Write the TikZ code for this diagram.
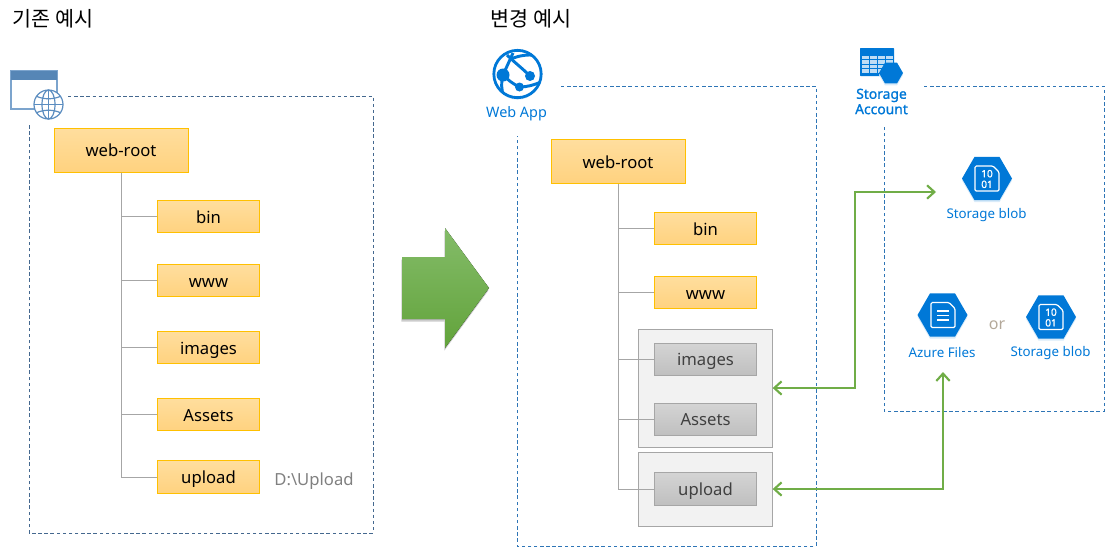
\documentclass[tikz,border=0pt]{standalone}
\usepackage{fontspec}
\setmainfont{Noto Sans}
\newfontfamily\cjk{Noto Sans CJK KR}
\newfontfamily\heavier[FakeBold=1.2]{Noto Sans}
\usetikzlibrary{shapes.geometric,shadows,arrows.meta}
\definecolor{azure}{HTML}{0078D7}
\definecolor{leaf}{HTML}{70AD47}
\definecolor{leaftop}{HTML}{84BC69}
\definecolor{leaflow}{HTML}{62A33B}
\definecolor{boxedge}{HTML}{FFC000}
\definecolor{boxtop}{HTML}{FFDE9E}
\definecolor{boxlow}{HTML}{FFD27F}
\definecolor{oldblue}{HTML}{44688F}
\definecolor{newblue}{HTML}{2E75B6}
\definecolor{globeblue}{HTML}{5B8DC0}
\definecolor{ortan}{HTML}{B3A899}
\begin{document}
\begin{tikzpicture}[x=.75pt, y=-.75pt,
  rootbox/.style={draw=boxedge, line width=.75pt, minimum width=100.5pt, minimum height=33pt,
                  inner sep=0pt, top color=boxtop, bottom color=boxlow, text height=11.5pt, text depth=1.5pt,
                  font=\fontsize{12.5}{14}\selectfont},
  leafbox/.style={rootbox, minimum width=77pt, minimum height=24.5pt},
  greybox/.style={draw=black!35, line width=.75pt, minimum width=77pt, minimum height=24.5pt, inner sep=0pt,
                  top color=black!17, bottom color=black!25, text=black!75, text height=11pt, text depth=1.5pt,
                  font=\fontsize{12.5}{14}\selectfont},
  setbox/.style={draw=black!35, line width=.75pt, fill=black!5, minimum width=100pt, inner sep=0pt},
  treeline/.style={draw=black!35, line width=.75pt},
  oldframe/.style={draw=oldblue, line width=.6pt, dash pattern=on 2.6pt off 2pt},
  newframe/.style={draw=newblue, line width=.6pt, dash pattern=on 2.6pt off 2pt},
  syncline/.style={draw=leaf, line width=1.6pt, {Straight Barb[length=5.5pt,width=10pt]}-{Straight Barb[length=5.5pt,width=10pt]}},
  hexnode/.style={regular polygon, regular polygon sides=6, minimum size=37.5pt, inner sep=0pt,
                  fill=azure, drop shadow={shadow xshift=0pt, shadow yshift=-1.5pt, fill=azure!15, opacity=1}},
  azlabel/.style={text=azure, font=\fontsize{10}{11.5}\selectfont, align=center, inner sep=0pt},
  titletext/.style={font=\cjk\fontsize{15.5}{18}\selectfont, inner sep=0pt},
  docglyph/.style={white, line width=.9pt, rounded corners=1pt},
  bits/.style={text=white, font=\heavier\fontsize{7.5}{8}\selectfont, align=center, inner sep=0pt},
]
  \useasboundingbox (0,0) rectangle (1105,547);

  % Titles
  \node[titletext] (oldtitle) at (53,19) {기존 예시};
  \node[titletext] (newtitle) at (531,19) {변경 예시};

  % Frames
  \draw[oldframe] (68,96) -- (373,96) -- (373,533) -- (29,533) -- (29,123);
  \draw[newframe] (561,86) -- (816,86) -- (816,546) -- (517,546) -- (517,136);
  \draw[newframe] (924,86) -- (1104,86) -- (1104,411) -- (884,411) -- (884,127);

  % Old tree
  \node[rootbox] (oldroot) at (121,150) {web-root};
  \node[leafbox] (oldbin) at (208.5,216.5) {bin};
  \node[leafbox] (oldwww) at (208.5,280.5) {www};
  \node[leafbox] (oldimg) at (208.5,347.5) {images};
  \node[leafbox] (oldast) at (208.5,414.5) {Assets};
  \node[leafbox] (oldupl) at (208.5,477) {upload};
  \node[text=black!50, font=\fontsize{12.5}{14}\selectfont, inner sep=0pt] (oldpath) at (314,481) {D:\textbackslash Upload};
  \foreach \m in {oldbin, oldwww, oldimg, oldast, oldupl}
    \draw[treeline] (oldroot.south) |- (\m.west);

  % New tree
  \node[setbox, minimum height=88.5pt] (imgset) at (705.5,388) {};
  \node[setbox, minimum height=55.5pt] (uplset) at (705.5,489) {};
  \node[rootbox] (newroot) at (618,161.5) {web-root};
  \node[leafbox] (newbin) at (705.5,228.5) {bin};
  \node[leafbox] (newwww) at (705.5,292.5) {www};
  \node[greybox] (newimg) at (705.5,359.5) {images};
  \node[greybox] (newast) at (705.5,419.5) {Assets};
  \node[greybox] (newupl) at (705.5,489) {upload};
  \foreach \m in {newbin, newwww, newimg, newast, newupl}
    \draw[treeline] (newroot.south) |- (\m.west);

  % Big arrow
  \fill[top color=leaftop, bottom color=leaflow, drop shadow={shadow xshift=-.5pt, shadow yshift=-2pt, opacity=.4}]
    (402,257) -- (445,257) -- (445,228) -- (489,288) -- (445,348) -- (445,319) -- (402,319) -- cycle;

  % Old icon
  \draw[draw=globeblue!80!white, fill=white, line width=.8pt] (11,71) rectangle (57,109);
  \fill[globeblue!80!oldblue] (11,71) rectangle (57,80);
  \begin{scope}[draw=globeblue, line width=.9pt]
    \draw[fill=white] (48.5,104.5) circle (14.5*.75pt);
    \draw (48.5,104.5) ellipse (6.5*.75pt and 14.5*.75pt);
    \draw (48.5,90) -- (48.5,119);
    \draw (34,104.5) -- (63,104.5);
    \draw (37,96.5) .. controls (44,99.5) and (53,99.5) .. (60,96.5);
    \draw (37,112.5) .. controls (44,109.5) and (53,109.5) .. (60,112.5);
  \end{scope}

  % Web App icon
  \node[circle, draw=azure, line width=2.1pt, minimum size=35.5pt, inner sep=0pt, drop shadow={shadow xshift=0pt, shadow yshift=-1.5pt, fill=azure!15, opacity=1}, fill=white] (webicon) at (517.5,74) {};
  \begin{scope}[azure, line width=2.2pt]
    \clip (517.5,74) circle (24*.75pt);
    \draw (503,75) -- (513,53);
    \draw (507,55) .. controls (514,62) and (522,68) .. (530,76);
    \draw (503,75) .. controls (508,80) and (513,84) .. (519.5,87);
    \draw (519.5,87) .. controls (527,87) and (534,85) .. (541,82);
    \draw (511,59) .. controls (520,55) and (530,54) .. (540,56);
    \draw (503,75) .. controls (501,82) and (501,90) .. (504,96);
    \fill (503,75) circle (6.5*.75pt);
    \fill (530,76) circle (5*.75pt);
    \fill (519.5,87) circle (4.5*.75pt);
  \end{scope}
  \node[azlabel, font=\fontsize{10.8}{12}\selectfont] (weblabel) at (516.5,114) {Web App};

  % Storage Account icon
  \fill[azure, rounded corners=.5pt] (860,48) rectangle (894,76);
  \foreach \c in {0,1,2,3}
    \foreach \r in {0,1,2,3}
      \fill[azure!25!white] (862+\c*8,55.5+\r*4.5) rectangle ++(7,3.5);
  \node[hexnode, minimum size=18pt, drop shadow={opacity=0}] (accounticon) at (891,73) {};
  \node[azlabel, font=\heavier\fontsize{10.4}{11.5}\selectfont] (accountlabel) at (881.5,101.5) {Storage\\Account};

  % Storage blob
  \node[hexnode] (blobicon) at (987,178.5) {};
  \draw[docglyph] (975,166) -- (993,166) -- (999,172) -- (999,191) -- (975,191) -- cycle;
  \node[bits] (blobbits) at (987,179) {10\\01};
  \node[azlabel] (bloblabel) at (986.5,215) {Storage blob};

  % Azure Files
  \node[hexnode] (filesicon) at (942.5,315) {};
  \draw[docglyph] (931,302.5) -- (949,302.5) -- (955,308.5) -- (955,327.5) -- (931,327.5) -- cycle;
  \foreach \r in {311,315.5,320}
    \draw[white, line width=1.1pt] (937,\r) -- (949,\r);
  \node[azlabel] (fileslabel) at (942,352.5) {Azure Files};

  % Or
  \node[text=ortan, font=\fontsize{12}{13}\selectfont, inner sep=0pt] (ortext) at (997,325) {or};

  % Second blob
  \node[hexnode] (blobtwo) at (1051,317) {};
  \draw[docglyph] (1039,304.5) -- (1057,304.5) -- (1063,310.5) -- (1063,329.5) -- (1039,329.5) -- cycle;
  \node[bits] (blobtwobits) at (1051,317.5) {10\\01};
  \node[azlabel] (blobtwolabel) at (1050.5,353) {Storage blob};

  % Arrows
  \coordinate (blobturn) at (855,192);
  \coordinate (blobin) at (936,192);
  \coordinate (filesin) at (943,372);
  \draw[syncline] (imgset.east) -| (blobturn) -- (blobin);
  \draw[syncline] (uplset.east) -| (filesin);
\end{tikzpicture}
\end{document}
